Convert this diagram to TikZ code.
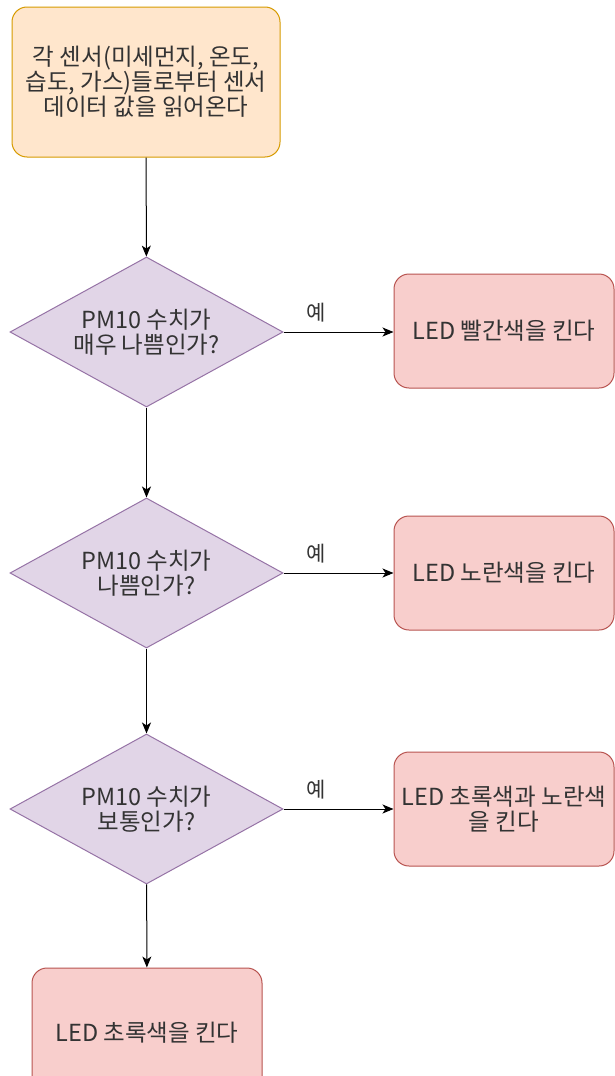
\documentclass[tikz,border=0pt]{standalone}
\usepackage{fontspec}
\setmainfont{Noto Sans CJK KR}
\usetikzlibrary{shapes.geometric,arrows.meta}
\definecolor{ofill}{HTML}{FFE6CC}
\definecolor{odraw}{HTML}{D79B00}
\definecolor{pfill}{HTML}{E1D5E7}
\definecolor{pdraw}{HTML}{9673A6}
\definecolor{rfill}{HTML}{F8CECC}
\definecolor{rdraw}{HTML}{B85450}
\definecolor{txt}{HTML}{333333}
\tikzset{
  base/.style={font=\fontsize{23.5}{25}\selectfont, text=txt, align=center, inner sep=0pt, line width=1pt},
  startbox/.style={base, draw=odraw, fill=ofill, rounded corners=15pt, minimum width=268pt, minimum height=150pt},
  decision/.style={base, diamond, aspect=1.82, draw=pdraw, fill=pfill, minimum width=273pt, minimum height=150pt},
  actbox/.style={base, draw=rdraw, fill=rfill, rounded corners=15pt, minimum width=220pt, minimum height=114pt},
  flow/.style={line width=1pt, -{Stealth[length=11pt,width=9pt,inset=3pt]}},
  yes/.style={font=\fontsize{21}{22}\selectfont, text=txt, inner sep=0pt}
}
\begin{document}
\begin{tikzpicture}[x=1pt,y=-1pt]
\useasboundingbox (0,0) rectangle (615,1076);
\clip (0,0) rectangle (615,1076);
\fill[white] (0,0) rectangle (615,1076);
\node[startbox] (s) at (146,82) {각 센서(미세먼지, 온도,\\습도, 가스)들로부터 센서\\데이터 값을 읽어온다};
\node[decision] (d1) at (146.5,332) {PM10 수치가\\매우 나쁨인가?};
\node[decision] (d2) at (146.5,573) {PM10 수치가\\나쁨인가?};
\node[decision] (d3) at (146.5,809) {PM10 수치가\\보통인가?};
\node[actbox] (r1) at (504,331) {LED 빨간색을 킨다};
\node[actbox] (r2) at (504,573) {LED 노란색을 킨다};
\node[actbox] (r3) at (504,809) {LED 초록색과 노란색\\을 킨다};
\node[actbox, minimum width=230pt, minimum height=130pt] (g) at (147,1033) {LED 초록색을 킨다};
\draw[flow] (s) -- (d1);
\draw[flow] (d1) -- (d2);
\draw[flow] (d2) -- (d3);
\draw[flow] (d3) -- (g);
\draw[flow] (d1.east) -- (d1.east -| r1.west) node[yes, pos=0.3, above=9pt] (y1) {예};
\draw[flow] (d2.east) -- (d2.east -| r2.west) node[yes, pos=0.3, above=9pt] (y2) {예};
\draw[flow] (d3.east) -- (d3.east -| r3.west) node[yes, pos=0.3, above=9pt] (y3) {예};
\end{tikzpicture}
\end{document}
